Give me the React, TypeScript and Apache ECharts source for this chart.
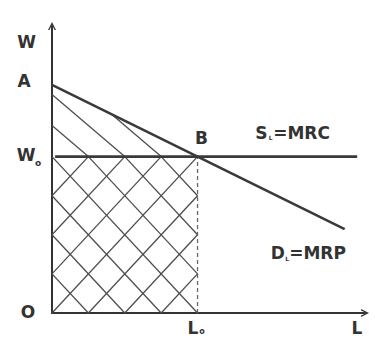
import React, { useEffect, useRef } from "react";
import * as echarts from "echarts";

// Equilibrium values (abstract units)
const L0 = 46.5; // equilibrium labour L0
const W0 = 54.5; // equilibrium wage W0
const A_WAGE = 79.5; // demand intercept A

// Demand curve D_L = MRP
const demandL = [0, 46.5, 93.5];
const demandW = [79.5, 54.5, 29.2];

// Supply curve S_L = MRC (horizontal)
const supplyL = [1, 97.5];
const supplyW = [54.5, 54.5];

// Axis range
const AXIS_MAX_L = 100;
const AXIS_MAX_W = 100;

// Hatching parameters
const HATCH_DIVISIONS = 4;
const TRIANGLE_HATCH_SLOPE = 0.93;

const INK = "#333333";
const FONT = "DejaVu Sans";

export default function App() {
  const ref = useRef<HTMLDivElement>(null);

  useEffect(() => {
    if (!ref.current) return;
    const chart = echarts.init(ref.current, null, { renderer: "svg" });

    // demand line function from data
    const dSlope = (demandW[1] - demandW[0]) / (demandL[1] - demandL[0]);

    const hatch: { coords: number[][] }[] = [];
    const m = W0 / L0;
    const step = L0 / HATCH_DIVISIONS;
    for (let k = -(HATCH_DIVISIONS - 1); k <= HATCH_DIVISIONS - 1; k++) {
      const c = k * step;
      const x1 = Math.max(0, c);
      const x2 = Math.min(L0, c + L0);
      // "/" family
      hatch.push({ coords: [[x1, m * (x1 - c)], [x2, m * (x2 - c)]] });
      // "\" family
      hatch.push({ coords: [[x1, W0 - m * (x1 - c)], [x2, W0 - m * (x2 - c)]] });
    }
    // "\" lines above W0, under demand curve
    for (let k = 1; k < HATCH_DIVISIONS; k++) {
      const c = k * step;
      const s = TRIANGLE_HATCH_SLOPE;
      const xi = (W0 + s * c - demandW[0]) / (dSlope + s);
      const xs = Math.max(0, xi);
      hatch.push({ coords: [[xs, W0 + s * (c - xs)], [c, W0]] });
    }

    const arrow = "path://M0,10 L5,0 L10,10 L8.2,10 L5,3.4 L1.8,10 Z";
    const axisCommon = {
      type: "value" as const,
      min: 0,
      axisLabel: { show: false },
      axisTick: { show: false },
      splitLine: { show: false },
      axisLine: {
        show: true,
        symbol: ["none", arrow],
        symbolSize: [10, 8],
        lineStyle: { color: INK, width: 2 },
      },
    };

    chart.setOption({
      animation: false,
      backgroundColor: "#ffffff",
      grid: { left: 52, right: 10, top: 26, bottom: 25 },
      xAxis: { ...axisCommon, max: AXIS_MAX_L },
      yAxis: { ...axisCommon, max: AXIS_MAX_W },
      series: [
        {
          type: "lines",
          coordinateSystem: "cartesian2d",
          silent: true,
          z: 1,
          lineStyle: { color: "#4d4d4d", width: 1.3, opacity: 1 },
          data: hatch,
        },
        {
          type: "line",
          name: "dashed",
          silent: true,
          z: 2,
          showSymbol: false,
          data: [[L0, 0], [L0, W0]],
          lineStyle: { color: "#666666", width: 1.3, type: [4, 3] },
        },
        {
          type: "line",
          name: "S_L=MRC",
          silent: true,
          z: 3,
          showSymbol: false,
          data: supplyL.map((l, i) => [l, supplyW[i]]),
          lineStyle: { color: "#3a3a3a", width: 2.6 },
        },
        {
          type: "line",
          name: "D_L=MRP",
          silent: true,
          z: 3,
          showSymbol: false,
          data: demandL.map((l, i) => [l, demandW[i]]),
          lineStyle: { color: "#3a3a3a", width: 2.6 },
        },
      ],
    });

    const px = (x: number, y: number) =>
      chart.convertToPixel({ gridIndex: 0 }, [x, y]) as number[];

    const label = (
      text: string,
      anchor: number[],
      dx: number,
      dy: number,
      size = 17,
      align = "center"
    ) => ({
      type: "text",
      x: anchor[0] + dx,
      y: anchor[1] + dy,
      silent: true,
      style: {
        text,
        fill: INK,
        font: `bold ${size}px "${FONT}"`,
        textAlign: align,
        textVerticalAlign: "middle",
      },
    });

    const origin = px(0, 0);
    const yTop = px(0, AXIS_MAX_W);
    const aPt = px(0, A_WAGE);
    const w0Pt = px(0, W0);
    const bPt = px(L0, W0);
    const l0Pt = px(L0, 0);
    const xEnd = px(AXIS_MAX_L, 0);
    const sEnd = px(supplyL[1], supplyW[1]);
    const dEnd = px(demandL[2], demandW[2]);

    chart.setOption({
      graphic: [
        label("W", yTop, -25.5, 15.5),
        label("A", aPt, -28, -4),
        label("W", w0Pt, -26, -1.5),
        label("o", w0Pt, -14, 6, 9),
        label("O", origin, -24, -1),
        label("L", l0Pt, -4.5, 15),
        label("o", l0Pt, 4.5, 18, 8),
        label("L", xEnd, -8, 15),
        label("B", bPt, 4, -19),
        label("S", sEnd, -102, -24, 17, "left"),
        label("L", sEnd, -88.5, -19, 6, "left"),
        label("=MRC", sEnd, -84, -24, 17, "left"),
        label("D", dEnd, -74, 24, 17, "left"),
        label("L", dEnd, -59.5, 29, 6, "left"),
        label("=MRP", dEnd, -55.5, 24, 17, "left"),
      ],
    });

    return () => chart.dispose();
  }, []);

  return (
    <div
      ref={ref}
      style={{ position: "fixed", left: 0, top: 0, width: 375, height: 338 }}
    />
  );
}
